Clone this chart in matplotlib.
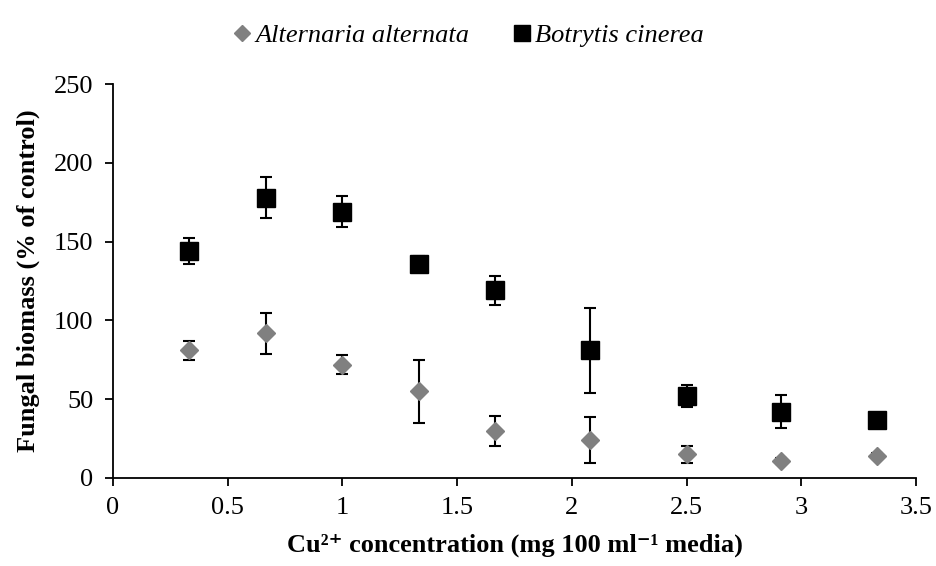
import matplotlib
matplotlib.use('Agg')
import matplotlib.pyplot as plt

# --- data ---
cu_conc = [0.333, 0.666, 1.0, 1.333, 1.666, 2.08, 2.5, 2.91, 3.33]

alternaria = [81, 92, 72, 55, 30, 24, 15, 11, 14]
alternaria_err = [6, 13, 6, 20, 9.5, 14.5, 5.5, 2, 2]

botrytis = [144, 178, 169, 136, 119, 81, 52, 42, 37]
botrytis_err = [8, 13, 10, 5, 9, 27, 7, 10.5, 2]

x_ticks = [0, 0.5, 1, 1.5, 2, 2.5, 3, 3.5]
x_tick_labels = ['0', '0.5', '1', '1.5', '2', '2.5', '3', '3.5']
y_ticks = [0, 50, 100, 150, 200, 250]

plt.rcParams['font.family'] = ['Liberation Serif', 'DejaVu Serif']

fig = plt.figure(figsize=(9.36, 5.66), dpi=100)
ax = fig.add_axes([0.1207, 0.1555, 0.858, 0.696])

ax.errorbar(cu_conc, alternaria, yerr=alternaria_err, fmt='D', color='#808080',
            markersize=9, ecolor='black', elinewidth=1.5, capsize=4, capthick=1.5,
            label='Alternaria alternata', zorder=3)
ax.errorbar(cu_conc, botrytis, yerr=botrytis_err, fmt='s', color='black',
            markersize=13, ecolor='black', elinewidth=1.5, capsize=4, capthick=1.5,
            label='Botrytis cinerea', zorder=3)

ax.set_xlim(0, 3.5)
ax.set_ylim(0, 250)
ax.set_xticks(x_ticks)
ax.set_xticklabels(x_tick_labels)
ax.set_yticks(y_ticks)
ax.tick_params(axis='both', labelsize=19, direction='out', length=6, width=1.3)
ax.tick_params(axis='x', pad=8)
ax.tick_params(axis='y', pad=8)

for side in ['top', 'right']:
    ax.spines[side].set_visible(False)
for side in ['left', 'bottom']:
    ax.spines[side].set_linewidth(1.3)

ax.set_xlabel('Cu\u00b2\u207a concentration (mg 100 ml\u207b\u00b9 media)', fontsize=19,
              fontweight='bold', labelpad=10)
ax.set_ylabel('Fungal biomass (% of control)', fontsize=19, fontweight='bold', labelpad=10)

handles, labels = ax.get_legend_handles_labels()
handles = [h[0] for h in handles]
fig.legend(handles, labels, loc='upper center', bbox_to_anchor=(0.5, 1.0), ncol=2,
           frameon=False, prop={'style': 'italic', 'size': 19}, handletextpad=0.1,
           columnspacing=1.6, handlelength=0.8, markerscale=0.85)

fig.savefig('out.png', dpi=100)
